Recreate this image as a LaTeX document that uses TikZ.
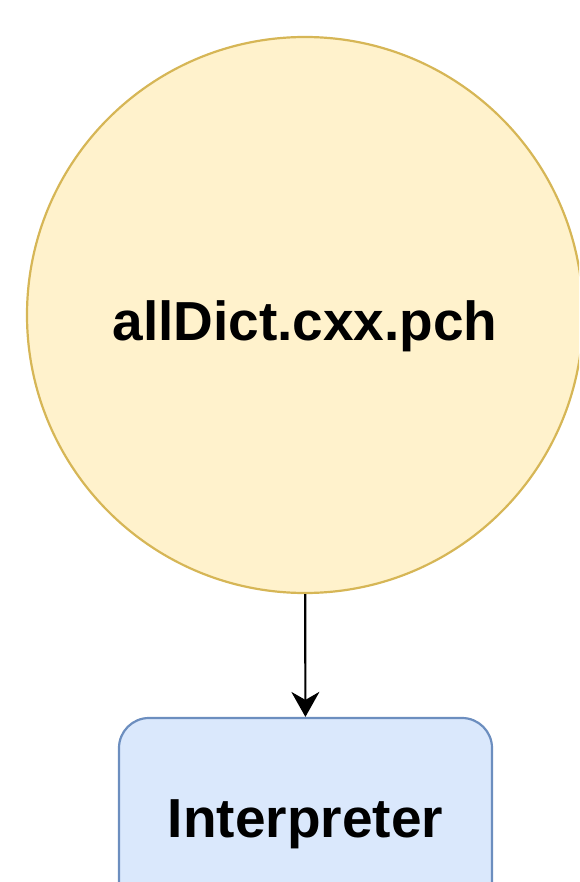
\documentclass[tikz,border=0pt]{standalone}
\usepackage{fontspec}
\setmainfont{Liberation Sans}
\usetikzlibrary{arrows.meta}
\definecolor{amarilloRelleno}{HTML}{FFF2CC}
\definecolor{amarilloBorde}{HTML}{D6B656}
\definecolor{azulRelleno}{HTML}{DAE8FC}
\definecolor{azulBorde}{HTML}{6C8EBF}
\begin{document}
\begin{tikzpicture}[x=1pt, y=1pt,
		texto/.style={font=\fontsize{55}{66}\selectfont\bfseries},
		archivo/.style={circle, draw=amarilloBorde, fill=amarilloRelleno, line width=2.2pt, minimum size=556pt, inner sep=0pt, text height=50pt, text depth=0pt, texto},
		caja/.style={rectangle, rounded corners=30pt, draw=azulBorde, fill=azulRelleno, line width=2.2pt, minimum width=373pt, minimum height=200pt, inner sep=0pt, text height=40pt, text depth=2pt, texto},
		flecha/.style={line width=2.2pt, -{Stealth[length=25pt, width=28pt, inset=8pt]}}]
		\useasboundingbox (0, 0) rectangle (579, -882);
		\clip (0, 0) rectangle (579, -882);
		\node[archivo] (pch) at (305, -315) {allDict.cxx.pch};
		\node[caja] (interp) at (305.5, -818) {Interpreter};
		\draw[flecha] (pch) -- (interp); % del pch al interprete
	\end{tikzpicture}
\end{document}
